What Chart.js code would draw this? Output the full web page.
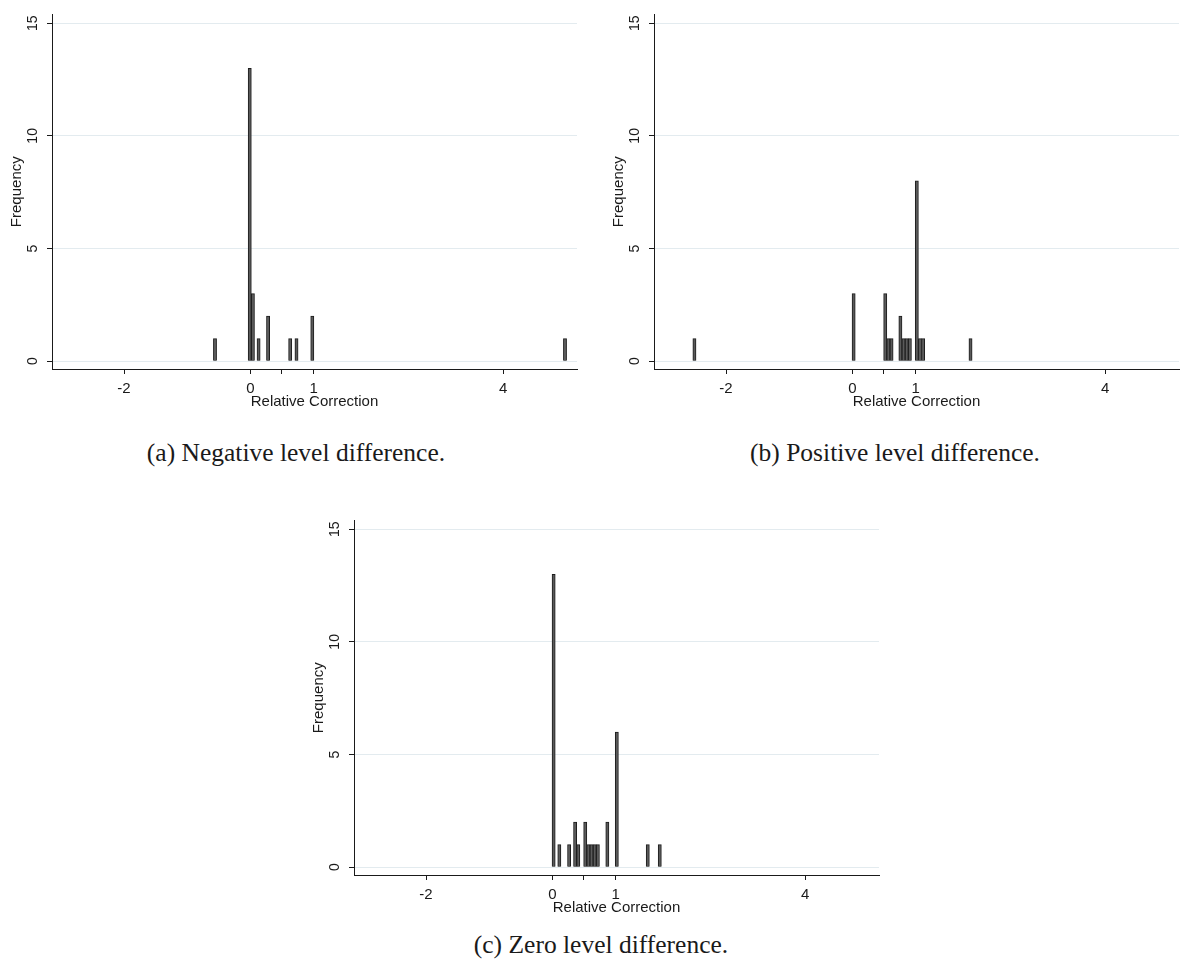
<!DOCTYPE html>
<html>
<head>
<meta charset="utf-8">
<script src="https://cdn.jsdelivr.net/npm/chart.js@4.4.1/dist/chart.umd.min.js"></script>
<style>
html,body{margin:0;padding:0;background:#fff;width:1180px;height:976px;overflow:hidden;}
.panel{position:absolute;width:578px;height:411px;}
.cap{position:absolute;font-family:"Liberation Serif","Times New Roman",serif;font-size:25.5px;line-height:26px;color:#1a1a1a;text-align:center;width:500px;white-space:nowrap;}
</style>
</head>
<body>
<div class="panel" style="left:0px;top:0px"><canvas id="chartNeg"></canvas></div>
<div class="panel" style="left:602px;top:0px"><canvas id="chartPos"></canvas></div>
<div class="panel" style="left:302px;top:506px"><canvas id="chartZero"></canvas></div>
<div class="cap" style="left:46px;top:440px">(a) Negative level difference.</div>
<div class="cap" style="left:645px;top:440px">(b) Positive level difference.</div>
<div class="cap" style="left:351px;top:932px">(c) Zero level difference.</div>
<script>
// ---- data ----
const xTickLabels = [-2, 0, 1, 4];
const xMinorTicks = [0.5];
const yTickLabels = [0, 5, 10, 15];

// (a) Negative level difference: bin centres and frequencies
const negX    = [-0.56, -0.01, 0.04, 0.13, 0.28, 0.63, 0.73, 0.98, 4.98];
const negFreq = [1, 13, 3, 1, 2, 1, 1, 2, 1];

// (b) Positive level difference
const posX    = [-2.5, 0.02, 0.52, 0.57, 0.62, 0.76, 0.81, 0.86, 0.91, 1.02, 1.07, 1.12, 1.87];
const posFreq = [1, 3, 3, 1, 1, 2, 1, 1, 1, 8, 1, 1, 1];

// (c) Zero level difference
const zeroX    = [0.02, 0.11, 0.265, 0.36, 0.41, 0.52, 0.57, 0.62, 0.67, 0.72, 0.87, 1.02, 1.51, 1.70];
const zeroFreq = [13, 1, 1, 2, 1, 2, 1, 1, 1, 1, 2, 6, 1, 1];

const xTitle = 'Relative Correction';
const yTitle = 'Frequency';

// ---- styling ----
const FONT = "'Liberation Sans', Arial, sans-serif";
const INK = '#1a1a1a';

function makeChart(id, xs, ys) {
  const pts = xs.map((x, i) => ({x: x, y: ys[i]}));
  const allXTicks = xTickLabels.concat(xMinorTicks).sort((a, b) => a - b);
  return new Chart(document.getElementById(id), {
    type: 'bar',
    data: {
      datasets: [{
        data: pts,
        backgroundColor: '#5a5a5a',
        borderColor: '#1c1c1c',
        borderWidth: {left: 1, right: 1, top: 1, bottom: 0},
        barThickness: 3.2,
        grouped: false
      }]
    },
    options: {
      responsive: true,
      maintainAspectRatio: false,
      animation: false,
      devicePixelRatio: 1,
      layout: {padding: {left: 0, right: 1, top: 7, bottom: 0}},
      plugins: {legend: {display: false}, tooltip: {enabled: false}},
      scales: {
        x: {
          type: 'linear',
          min: -3.14,
          max: 5.17,
          offset: false,
          afterBuildTicks: s => { s.ticks = allXTicks.map(v => ({value: v})); },
          afterFit: s => { s.height = 42; },
          ticks: {
            autoSkip: false,
            maxRotation: 0,
            padding: 6,
            color: INK,
            font: {family: FONT, size: 15},
            callback: v => xTickLabels.includes(v) ? String(v) : ''
          },
          grid: {display: true, offset: false, drawOnChartArea: false, drawTicks: true, tickLength: 5, tickColor: INK, tickWidth: 1},
          border: {display: true, color: INK, width: 1},
          title: {display: true, text: xTitle, color: INK, font: {family: FONT, size: 15}, padding: {top: 0, bottom: 0}}
        },
        y: {
          type: 'linear',
          min: -0.348,
          max: 15.391,
          afterBuildTicks: s => { s.ticks = yTickLabels.map(v => ({value: v})); },
          afterFit: s => { s.width = 52; },
          ticks: {
            minRotation: 90,
            maxRotation: 90,
            crossAlign: 'center',
            padding: 6,
            color: INK,
            font: {family: FONT, size: 14}
          },
          grid: {color: '#e3ebef', lineWidth: 1, drawTicks: true, tickLength: 5, tickColor: INK, tickWidth: 1},
          border: {display: true, color: INK, width: 1},
          title: {display: true, text: yTitle, color: INK, font: {family: FONT, size: 15}, padding: {top: 8, bottom: 0}}
        }
      }
    }
  });
}

makeChart('chartNeg', negX, negFreq);
makeChart('chartPos', posX, posFreq);
makeChart('chartZero', zeroX, zeroFreq);
</script>
</body>
</html>
